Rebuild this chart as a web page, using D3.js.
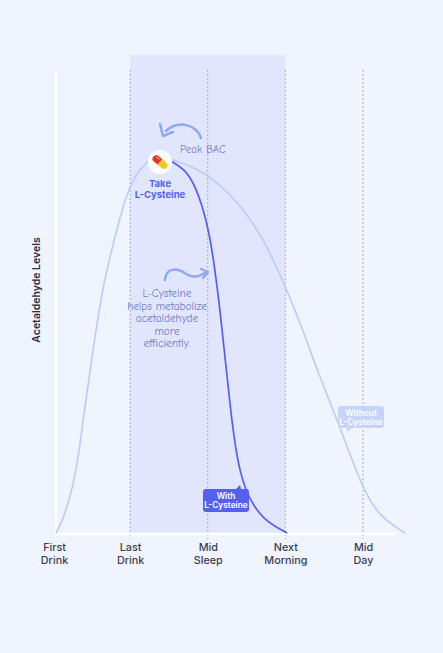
<!DOCTYPE html>
<html><head><meta charset="utf-8">
<script src="https://cdn.jsdelivr.net/npm/d3@7"></script>
<style>
html,body{margin:0;padding:0;background:#f0f4fe;}
svg{display:block;}
</style></head>
<body>
<svg id="c" width="443" height="653"></svg>
<script>
// ---- data ----
const tickPositions = [0, 1, 2, 3, 4];
const tickLabels = [["First","Drink"],["Last","Drink"],["Mid","Sleep"],["Next","Morning"],["Mid","Day"]];
const withoutX = [0.045, 0.135, 0.264, 0.341, 0.393, 0.522, 0.651, 0.870, 0.998, 1.217, 1.385, 1.552, 1.939, 2.377, 2.712, 3.021, 3.227, 3.407, 3.704, 4.0, 4.219, 4.541];
const withoutY = [0, 3.25, 11.5, 20, 28.25, 45.75, 62.5, 79, 87.5, 93.25, 94.25, 93.25, 90.75, 83.25, 74, 60.75, 50.75, 40.75, 26.5, 10.75, 4, 0];
const withX = [1.385, 1.552, 1.771, 1.939, 2.029, 2.093, 2.158, 2.222, 2.287, 2.351, 2.415, 2.519, 2.712, 3.021];
const withY = [94.25, 92.75, 90, 81.5, 74, 65.75, 55.75, 44, 32, 22, 15.25, 9, 3.25, 0];
const bandRange = [1, 3];
const noteLines = ["L-Cysteine","helps metabolize","acetaldehyde","more","efficiently."];

// ---- chart ----
const svg = d3.select("#c");
const x = d3.scaleLinear().domain([0,4]).range([52.5,363]);
const y = d3.scaleLinear().domain([0,100]).range([533,133]);
const hand = "'Comic Sans MS','Comic Neue','DejaVu Sans',sans-serif";
const sans = "Inter,'Noto Sans',sans-serif";

// shaded band
svg.append("rect").attr("x", x(bandRange[0])).attr("y", 55)
  .attr("width", x(bandRange[1]) - x(bandRange[0])).attr("height", 533-55)
  .attr("fill", "#e1e6fd");

// dashed grid lines
svg.selectAll("line.grid").data(tickPositions.slice(1)).join("line")
  .attr("class","grid")
  .attr("x1", d=>x(d)).attr("x2", d=>x(d)).attr("y1", 70).attr("y2", 539)
  .attr("stroke", "#a8adc2").attr("stroke-width", 1).attr("stroke-dasharray","2,2");

// axes lines (white)
svg.append("line").attr("x1",56).attr("x2",56).attr("y1",70).attr("y2",534)
  .attr("stroke","#ffffff").attr("stroke-width",2);
svg.append("line").attr("x1",55).attr("x2",397).attr("y1",y(0)+1).attr("y2",y(0)+1)
  .attr("stroke","#ffffff").attr("stroke-width",2.5);

// x axis labels
const xAxis = d3.axisBottom(x).tickValues(tickPositions).tickSize(0).tickFormat("");
const gx = svg.append("g").attr("transform", `translate(0,${y(0)})`).call(xAxis);
gx.select(".domain").remove();
gx.selectAll(".tick").each(function(d,i){
  const g = d3.select(this);
  tickLabels[i].forEach((s,k)=>{
    g.append("text").attr("text-anchor","middle").attr("fill","#3b3e52")
      .attr("font-family",sans).attr("font-size",10.8).attr("font-weight",500)
      .attr("x", i===0?1.5:0).attr("y", 18 + k*12.5).text(s);
  });
});

// y axis label
svg.append("text").attr("transform","translate(40,290) rotate(-90)")
  .attr("text-anchor","middle").attr("fill","#2b2e40")
  .attr("font-family",sans).attr("font-size",10.5).attr("font-weight",600)
  .text("Acetaldehyde Levels");

// curves
const line = d3.line().x(d=>x(d[0])).y(d=>y(d[1])).curve(d3.curveBasis);
svg.append("path").datum(d3.zip(withoutX, withoutY)).attr("d", line)
  .attr("fill","none").attr("stroke","#b9cbfb").attr("stroke-width",1.6);
svg.append("path").datum(d3.zip(withX, withY)).attr("d", line)
  .attr("fill","none").attr("stroke","#5360f2").attr("stroke-width",1.7);

// Peak BAC arrow
svg.append("path").attr("d","M201,138 C196,124 178,120 166,131")
  .attr("fill","none").attr("stroke","#8ea8f2").attr("stroke-width",2.5).attr("stroke-linecap","round");
svg.append("path").attr("d","M160,124 L163,136 L173,132")
  .attr("fill","none").attr("stroke","#8ea8f2").attr("stroke-width",2.5)
  .attr("stroke-linecap","round").attr("stroke-linejoin","round");
svg.append("text").attr("x",180).attr("y",153).attr("fill","#7683c4")
  .attr("font-family",hand).attr("font-size",11).text("Peak BAC");

// pill marker
const px = x(withX[0]), py = 162;
svg.append("circle").attr("cx",px).attr("cy",py).attr("r",12).attr("fill","#ffffff");
const pill = svg.append("g").attr("transform",`translate(${px},${py}) rotate(40)`);
pill.append("path").attr("d","M0,-3.6 L-5,-3.6 A3.6,3.6 0 0 0 -5,3.6 L0,3.6 Z").attr("fill","#e5391c");
pill.append("path").attr("d","M0,-3.6 L5,-3.6 A3.6,3.6 0 0 1 5,3.6 L0,3.6 Z").attr("fill","#f6c51c");
pill.append("path").attr("d","M-6,-1.8 L-2.5,-1.8").attr("stroke","#ffffff").attr("stroke-opacity",0.6).attr("stroke-width",1).attr("stroke-linecap","round");
svg.append("text").attr("text-anchor","middle").attr("fill","#5562ee")
  .attr("font-family",sans).attr("font-size",9.5).attr("font-weight",700)
  .selectAll("tspan").data(["Take","L-Cysteine"]).join("tspan")
  .attr("x",px).attr("y",(d,i)=>187+i*11).text(d=>d);

// squiggle arrow
svg.append("path").attr("d","M165,280 C166,268 176,267 186,274 C194,279 200,276 207,272")
  .attr("fill","none").attr("stroke","#8ea8f2").attr("stroke-width",2.5).attr("stroke-linecap","round");
svg.append("path").attr("d","M201,269 L208,272 L203,278")
  .attr("fill","none").attr("stroke","#8ea8f2").attr("stroke-width",2.2)
  .attr("stroke-linecap","round").attr("stroke-linejoin","round");
svg.append("text").attr("text-anchor","middle").attr("fill","#6f7dc2")
  .attr("font-family",hand).attr("font-size",11.3)
  .selectAll("tspan").data(noteLines).join("tspan")
  .attr("x",167).attr("y",(d,i)=>297+i*12.5).text(d=>d);

// With L-Cysteine label
svg.append("path").attr("d","M206,489 L236,489 L240,485 L241,489 L246,489 Q249,489 249,492 L249,509 Q249,512 246,512 L206,512 Q203,512 203,509 L203,492 Q203,489 206,489 Z")
  .attr("fill","#5560ee");
svg.append("text").attr("text-anchor","middle").attr("fill","#ffffff")
  .attr("font-family",sans).attr("font-size",8.3).attr("font-weight",600)
  .selectAll("tspan").data(["With","L-Cysteine"]).join("tspan")
  .attr("x",226).attr("y",(d,i)=>499+i*9).text(d=>d);

// Without L-Cysteine label
svg.append("path").attr("d","M341,406 L381,406 Q384,406 384,409 L384,425 Q384,428 381,428 L352,428 L347,432 L347,428 L341,428 Q338,428 338,425 L338,409 Q338,406 341,406 Z")
  .attr("fill","#c6d4fb");
svg.append("text").attr("text-anchor","middle").attr("fill","#ffffff")
  .attr("font-family",sans).attr("font-size",8.3).attr("font-weight",600)
  .selectAll("tspan").data(["Without","L-Cysteine"]).join("tspan")
  .attr("x",361).attr("y",(d,i)=>416+i*9).text(d=>d);
</script>
</body></html>
